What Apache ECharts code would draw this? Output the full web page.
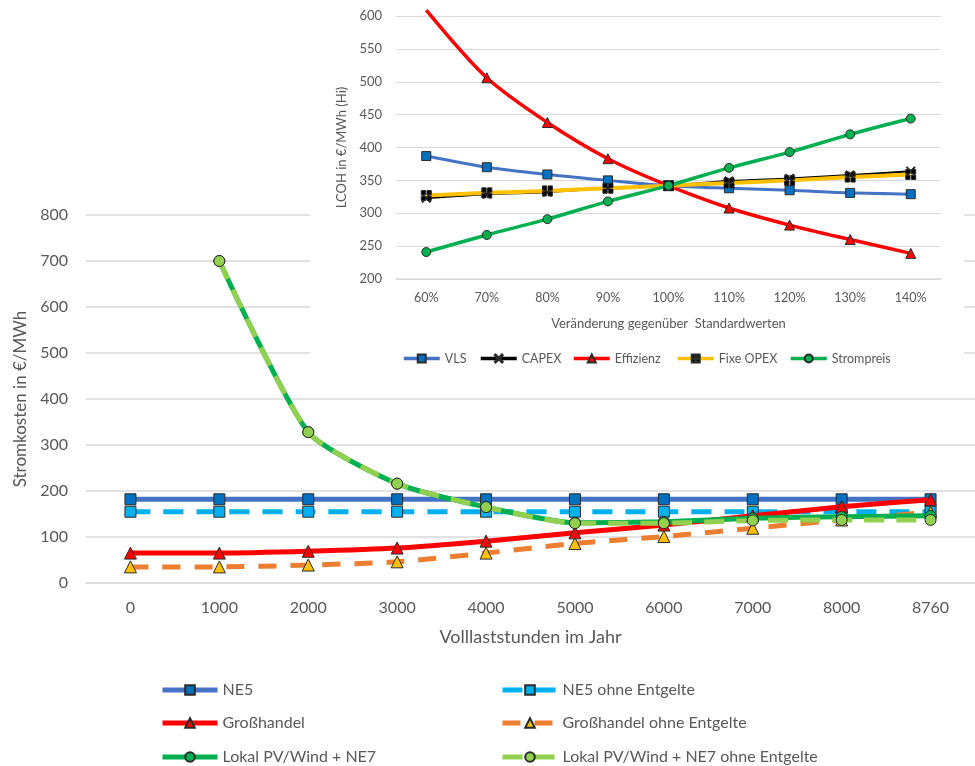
<!DOCTYPE html>
<html>
<head>
<meta charset="utf-8">
<title>Stromkosten und LCOH-Sensitivität</title>
<script src="https://cdn.jsdelivr.net/npm/echarts@6/dist/echarts.min.js"></script>
<style>
  html, body { margin: 0; padding: 0; background: #ffffff; }
  #chart { width: 975px; height: 766px; }
</style>
</head>
<body>
<div id="chart"></div>
<script>
// Main chart: electricity cost over full-load hours
const hours = ['0', '1000', '2000', '3000', '4000', '5000', '6000', '7000', '8000', '8760'];
const ne5 = [182, 182, 182, 182, 182, 182, 182, 182, 182, 182];
const ne5OhneEntgelte = [155, 155, 155, 155, 155, 155, 155, 155, 155, 155];
const grosshandel = [65, 65, 69, 76, 91, 109, 126, 146, 166, 181];
const grosshandelOhneEntgelte = [35, 35, 39, 46, 65, 86, 101, 119, 137, 154];
const lokal = [null, 700, 328, 216, 165, 131, 133, 141, 144, 146];
const lokalOhneEntgelte = [null, 700, 328, 216, 165, 130, 130, 136, 137, 137];

// Inset: LCOH sensitivity to deviations from default values
const deviation = ['60%', '70%', '80%', '90%', '100%', '110%', '120%', '130%', '140%'];
const vls = [387, 370, 359, 350, 342, 338, 335, 331, 329];
const capex = [323, 329, 332, 338, 342, 349, 353, 358, 364];
const effizienz = [609, 506, 438, 383, 342, 308, 282, 260, 239];
const fixeOpex = [327, 331, 334, 338, 342, 346, 350, 355, 359];
const strompreis = [241, 267, 291, 318, 342, 369, 393, 420, 444];

const FONT = 'Lato';
const TEXT = '#595959';
const GRID_LINE = '#D9D9D9';
const EDGE = '#2b2b2b';

const xSymbol = 'path://M1,0L5,4L9,0L10,1L6,5L10,9L9,10L5,6L1,10L0,9L4,5L0,1Z';
const plusSquare = 'path://M0,0h4.3v4.3h-4.3zM5.7,0h4.3v4.3h-4.3zM0,5.7h4.3v4.3h-4.3zM5.7,5.7h4.3v4.3h-4.3z';

const chart = echarts.init(document.getElementById('chart'), null, { renderer: 'canvas' });

function mainLine(name, data, lineColor, markColor, symbol, size, dash, z) {
  return {
    name, type: 'line', data,
    xAxisIndex: 0, yAxisIndex: 0,
    smooth: 0.2, connectNulls: false,
    symbol, symbolSize: size, z,
    lineStyle: { color: lineColor, width: 5, type: dash || 'solid', cap: 'butt' },
    itemStyle: { color: markColor, borderColor: EDGE, borderWidth: 1 },
    emphasis: { disabled: true },
    animation: false
  };
}

function insetLine(name, data, lineColor, markColor, symbol, size, width, z) {
  return {
    name, type: 'line', data,
    xAxisIndex: 1, yAxisIndex: 1,
    smooth: 0.3, clip: false,
    symbol, symbolSize: size, z,
    lineStyle: { color: lineColor, width },
    itemStyle: { color: markColor, borderColor: EDGE, borderWidth: 1 },
    emphasis: { disabled: true },
    animation: false
  };
}

// Effizienz starts above the axis maximum; its first point carries no marker
const effizienzData = effizienz.map((v, i) => i === 0 ? { value: v, symbol: 'none' } : v);

function legendAt(name, left, top, size, width, height, lineWidth) {
  return {
    data: [name], left, top, padding: 0, orient: 'horizontal',
    itemWidth: width, itemHeight: height, selectedMode: false,
    lineStyle: { width: lineWidth },
    textStyle: { fontFamily: FONT, fontSize: size, color: TEXT, padding: [0, 0, 0, 0] }
  };
}

const option = {
  backgroundColor: '#ffffff',
  animation: false,
  textStyle: { fontFamily: FONT },
  grid: [
    { left: 86, top: 215, width: 900, height: 368, containLabel: false },
    { left: 396, top: 16, width: 545, height: 263, containLabel: false, z: 3 }
  ],
  graphic: [
    { type: 'rect', left: 310, top: 0, z: 1, shape: { width: 654, height: 375 }, style: { fill: '#ffffff' } }
  ],
  xAxis: [
    {
      type: 'category', data: hours, gridIndex: 0, boundaryGap: true,
      axisLine: { show: true, lineStyle: { color: GRID_LINE, width: 1.5 } },
      axisTick: { show: false },
      axisLabel: { color: TEXT, fontSize: 16, fontFamily: FONT, margin: 17 },
      name: 'Volllaststunden im Jahr', nameLocation: 'middle', nameGap: 45,
      nameTextStyle: { color: TEXT, fontSize: 18, fontFamily: FONT }
    },
    {
      type: 'category', data: deviation, gridIndex: 1, boundaryGap: true, z: 3,
      axisLine: { show: true, lineStyle: { color: GRID_LINE, width: 1.5 } },
      axisTick: { show: false },
      axisLabel: { color: TEXT, fontSize: 12.5, fontFamily: FONT, margin: 12 },
      name: 'Veränderung gegenüber  Standardwerten', nameLocation: 'middle', nameGap: 38,
      nameTextStyle: { color: TEXT, fontSize: 13, fontFamily: FONT }
    }
  ],
  yAxis: [
    {
      type: 'value', gridIndex: 0, min: 0, max: 800, interval: 100,
      axisLine: { show: false }, axisTick: { show: false },
      splitLine: { lineStyle: { color: GRID_LINE, width: 1.5 } },
      axisLabel: { color: TEXT, fontSize: 16, fontFamily: FONT, margin: 18 },
      name: 'Stromkosten in €/MWh', nameLocation: 'middle', nameGap: 43, nameRotate: 90,
      nameTextStyle: { color: TEXT, fontSize: 17, fontFamily: FONT }
    },
    {
      type: 'value', gridIndex: 1, min: 200, max: 600, interval: 50, z: 3,
      axisLine: { show: false }, axisTick: { show: false },
      splitLine: { lineStyle: { color: GRID_LINE, width: 1.2 } },
      axisLabel: { color: TEXT, fontSize: 13, fontFamily: FONT, margin: 14 },
      name: 'LCOH in €/MWh (Hi)', nameLocation: 'middle', nameGap: 40, nameRotate: 90,
      nameTextStyle: { color: TEXT, fontSize: 13, fontFamily: FONT }
    }
  ],
  legend: [
    legendAt('NE5', 160, 682, 16, 55, 12, 5),
    legendAt('Großhandel', 160, 715, 16, 55, 12, 5),
    legendAt('Lokal PV/Wind + NE7', 160, 749, 16, 55, 12, 5),
    legendAt('NE5 ohne Entgelte', 500, 682, 16, 55, 12, 5),
    legendAt('Großhandel ohne Entgelte', 500, 715, 16, 55, 12, 5),
    legendAt('Lokal PV/Wind + NE7 ohne Entgelte', 500, 749, 16, 55, 12, 5),
    legendAt('VLS', 402, 352, 12.5, 36, 10, 3.5),
    legendAt('CAPEX', 479, 352, 12.5, 36, 10, 3.5),
    legendAt('Effizienz', 572, 352, 12.5, 36, 10, 3.5),
    legendAt('Fixe OPEX', 676, 352, 12.5, 36, 10, 3.5),
    legendAt('Strompreis', 789, 352, 12.5, 36, 10, 3.5)
  ],
  series: [
    mainLine('NE5', ne5, '#4472C4', '#0070C0', 'rect', 11, null, 2),
    mainLine('NE5 ohne Entgelte', ne5OhneEntgelte, '#00B0F0', '#00B0F0', 'rect', 11, [20, 13], 2),
    mainLine('Großhandel', grosshandel, '#FF0000', '#FF0000', 'triangle', 12, null, 3),
    mainLine('Großhandel ohne Entgelte', grosshandelOhneEntgelte, '#ED7D31', '#FFC000', 'triangle', 12, [18, 14], 2),
    mainLine('Lokal PV/Wind + NE7', lokal, '#00B050', '#00B050', 'circle', 11, null, 3),
    mainLine('Lokal PV/Wind + NE7 ohne Entgelte', lokalOhneEntgelte, '#92D050', '#92D050', 'circle', 11, [20, 12], 3),

    insetLine('VLS', vls, '#4472C4', '#0070C0', 'rect', 9, 3, 4),
    insetLine('CAPEX', capex, '#000000', '#111111', xSymbol, 9, 2, 4),
    insetLine('Effizienz', effizienzData, '#FF0000', '#FF0000', 'triangle', 10, 3.5, 4),
    insetLine('Fixe OPEX', fixeOpex, '#FFC000', '#000000', plusSquare, 10, 4, 4),
    insetLine('Strompreis', strompreis, '#00B050', '#00B050', 'circle', 9, 3.5, 4)
  ]
};

chart.setOption(option);
</script>
</body>
</html>
